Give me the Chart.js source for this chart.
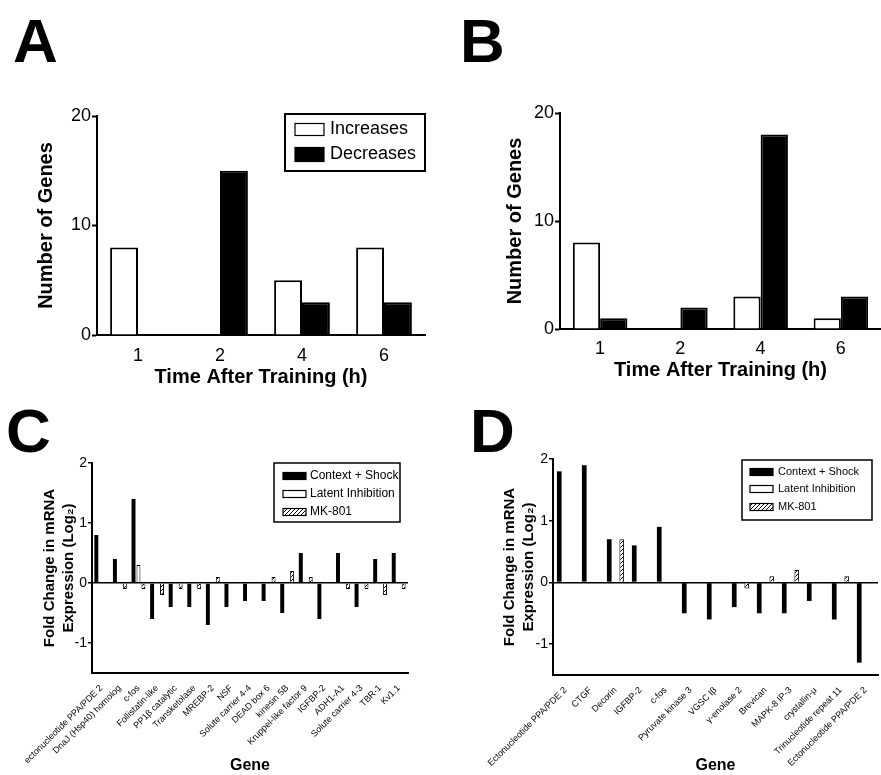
<!DOCTYPE html>
<html>
<head>
<meta charset="utf-8">
<script src="https://cdn.jsdelivr.net/npm/chart.js@4.4.1/dist/chart.umd.min.js"></script>
<style>
  body { margin: 0; background: #fff; width: 881px; height: 775px; position: relative; overflow: hidden; }
  canvas { position: absolute; }
  .letter { position: absolute; font: bold 62px "Liberation Sans", Arial, sans-serif; line-height: 62px; color: #000; }
</style>
</head>
<body>
<div class="letter" style="left:13px;top:10px">A</div>
<div class="letter" style="left:460px;top:10px">B</div>
<div class="letter" style="left:6px;top:400px">C</div>
<div class="letter" style="left:470px;top:400px">D</div>
<canvas id="chartA" width="440" height="300" style="left:0;top:90px"></canvas>
<canvas id="chartB" width="441" height="300" style="left:440px;top:90px"></canvas>
<canvas id="chartC" width="440" height="335" style="left:0;top:440px"></canvas>
<canvas id="chartD" width="441" height="335" style="left:440px;top:440px"></canvas>
<script>
const timeLabels = ["1", "2", "4", "6"];
const aIncreases = [8, 0, 5, 8];
const aDecreases = [0, 15, 3, 3];
const bIncreases = [8, 0, 3, 1];
const bDecreases = [1, 2, 18, 3];
const countTicks = [0, 10, 20];

const cGenes = ["ectonucleotide PPA/PDE 2", "DnaJ (Hsp40) homolog", "c-fos", "Follistatin-like",
  "PP1\u03b2 catalytic", "Transketolase", "MREBP-2", "NSF", "Solute carrier 4-4", "DEAD box 6",
  "kinesin 5B", "Kruppel-like factor 9", "IGFBP-2", "ADH1-A1", "Solute carrier 4-3", "TBR-1", "Kv1.1"];
const cContext = [0.8, 0.4, 1.4, -0.6, -0.4, -0.4, -0.7, -0.4, -0.3, -0.3, -0.5, 0.5, -0.6, 0.5, -0.4, 0.4, 0.5];
const cLatent = [null, null, 0.3, null, null, null, null, null, null, null, null, null, null, null, null, null, null];
const cMK801 = [null, -0.1, -0.1, -0.2, -0.1, -0.1, 0.1, null, null, 0.1, 0.2, 0.1, null, -0.1, -0.1, -0.2, -0.1];

const dGenes = ["Ectonucleotide PPA/PDE 2", "CTGF", "Decorin", "IGFBP-2", "c-fos", "Pyruvate kinase 3",
  "VGSC I\u03b2", "\u03b3-enolase 2", "Brevican", "MAPK-8 IP-3", "crystallin-\u03bc",
  "Trinucleotide repeat 11", "Ectonucleotide PPA/PDE 2"];
const dContext = [1.8, 1.9, 0.7, 0.6, 0.9, -0.5, -0.6, -0.4, -0.5, -0.5, -0.3, -0.6, -1.3];
const dLatent = [null, null, null, null, null, null, null, null, null, null, null, null, null];
const dMK801 = [null, null, 0.7, null, null, null, null, -0.1, 0.1, 0.2, null, 0.1, null];
const foldTicks = [-1, 0, 1, 2];

Chart.defaults.font.family = '"Liberation Sans", Arial, sans-serif';
Chart.defaults.color = "#000";

function hatch() {
  const c = document.createElement("canvas");
  c.width = 4;
  c.height = 4;
  const g = c.getContext("2d");
  g.fillStyle = "#fff";
  g.fillRect(0, 0, 4, 4);
  g.strokeStyle = "#000";
  g.lineWidth = 1;
  g.beginPath();
  g.moveTo(0, 4);
  g.lineTo(4, 0);
  g.stroke();
  return g.createPattern(c, "repeat");
}

// boxed legend drawn inside the plot, like the figure
const boxLegend = {
  id: "boxLegend",
  afterDraw(chart, args, o) {
    const ctx = chart.ctx;
    ctx.save();
    ctx.strokeStyle = "#000";
    ctx.lineWidth = o.lineWidth;
    ctx.strokeRect(o.x, o.y, o.w, o.h);
    ctx.font = o.fontSize + "px " + Chart.defaults.font.family;
    ctx.textBaseline = "middle";
    chart.data.datasets.forEach((ds, i) => {
      const y = o.y + o.rows[i];
      const sh = o.swatchH[i];
      ctx.fillStyle = ds.backgroundColor;
      ctx.fillRect(o.x + o.swatchX, y - sh / 2, o.swatchW, sh);
      ctx.lineWidth = 1.2;
      ctx.strokeRect(o.x + o.swatchX, y - sh / 2, o.swatchW, sh);
      ctx.fillStyle = "#000";
      ctx.fillText(ds.label, o.x + o.textX, y);
    });
    ctx.restore();
  },
};

function countChart(id, inc, dec, lay, legend) {
  const plugins = legend ? [boxLegend] : [];
  return new Chart(document.getElementById(id), {
    type: "bar",
    data: {
      labels: timeLabels,
      datasets: [
        { label: "Increases", data: inc, backgroundColor: "#fff", borderColor: "#000", borderWidth: 2 },
        { label: "Decreases", data: dec, backgroundColor: "#000", borderColor: "#000", borderWidth: 2 },
      ],
    },
    plugins,
    options: {
      responsive: false,
      animation: false,
      layout: { padding: lay.padding },
      datasets: { bar: { categoryPercentage: 0.68, barPercentage: 1 } },
      plugins: { legend: { display: false }, tooltip: { enabled: false }, boxLegend: legend },
      scales: {
        x: {
          grid: { display: false },
          border: { color: "#000", width: 2 },
          ticks: { font: { size: 18 }, padding: lay.xTickPad },
          title: { display: true, text: "Time After Training (h)", font: { size: 20, weight: "bold" }, padding: { top: 0, bottom: lay.xTitlePad } },
          afterFit: (s) => { s.height = lay.xHeight; },
        },
        y: {
          min: 0,
          max: 20,
          afterBuildTicks: (s) => { s.ticks = countTicks.map((v) => ({ value: v })); },
          grid: { drawOnChartArea: false, tickLength: 5, tickColor: "#000", tickWidth: 2 },
          border: { color: "#000", width: 2 },
          ticks: { font: { size: 18 }, padding: 1 },
          title: { display: true, text: "Number of Genes", font: { size: 20, weight: "bold" }, padding: { top: lay.yTitlePad, bottom: 0 } },
          afterFit: (s) => { s.width = lay.yWidth; },
        },
      },
    },
  });
}

function foldChart(id, genes, context, latent, mk, lay, legend) {
  return new Chart(document.getElementById(id), {
    type: "bar",
    data: {
      labels: genes,
      datasets: [
        { label: "Context + Shock", data: context, backgroundColor: "#000", borderWidth: 0 },
        { label: "Latent Inhibition", data: latent, backgroundColor: "#fff", borderColor: "#000", borderWidth: 1 },
        { label: "MK-801", data: mk, backgroundColor: hatch(), borderColor: "#000", borderWidth: 1 },
      ],
    },
    plugins: [boxLegend],
    options: {
      responsive: false,
      animation: false,
      layout: { padding: lay.padding },
      datasets: { bar: { categoryPercentage: lay.catPct, barPercentage: lay.barPct } },
      plugins: { legend: { display: false }, tooltip: { enabled: false }, boxLegend: legend },
      scales: {
        x: {
          grid: { display: false },
          border: { color: "#000", width: 2 },
          ticks: { font: { size: 9 }, minRotation: 45, maxRotation: 45, autoSkip: false, padding: 2 },
          title: { display: true, text: "Gene", font: { size: 16, weight: "bold" }, padding: { top: 0, bottom: 0 } },
          afterFit: (s) => { s.height = lay.xHeight; },
        },
        y: {
          min: -1.5,
          max: 2,
          afterBuildTicks: (s) => { s.ticks = foldTicks.map((v) => ({ value: v })); },
          grid: {
            color: (c) => (c.tick && c.tick.value === 0 ? "#000" : "rgba(0,0,0,0)"),
            lineWidth: 1.5,
            tickLength: 4,
            tickColor: "#000",
            tickWidth: 1.5,
          },
          border: { color: "#000", width: 2 },
          ticks: { font: { size: 14 }, padding: 1 },
          title: {
            display: true,
            text: ["Fold Change in mRNA", "Expression (Log\u2082)"],
            font: { size: 15, weight: "bold", lineHeight: 1.27 },
            padding: { top: 2, bottom: 0 },
          },
          afterFit: (s) => { s.width = lay.yWidth; },
        },
      },
    },
  });
}

countChart("chartA", aIncreases, aDecreases,
  { padding: { left: 32, right: 15, top: 26, bottom: 0 }, xHeight: 55, yWidth: 65, xTickPad: 2, xTitlePad: 1, yTitlePad: 2 },
  { x: 285, y: 24, w: 140, h: 57, rows: [15.5, 40.5], swatchX: 10, swatchW: 29, swatchH: [12, 14], textX: 45, fontSize: 18, lineWidth: 2 });

countChart("chartB", bIncreases, bDecreases,
  { padding: { left: 63, right: 0, top: 23, bottom: 0 }, xHeight: 61, yWidth: 57, xTickPad: 1, xTitlePad: 8, yTitlePad: 0 },
  null);

foldChart("chartC", cGenes, cContext, cLatent, cMK801,
  { padding: { left: 38, right: 32, top: 23, bottom: 0 }, xHeight: 102, yWidth: 54, catPct: 0.8, barPct: 0.8 },
  { x: 274, y: 23, w: 126, h: 59, rows: [13, 31, 49], swatchX: 9, swatchW: 23, swatchH: [7, 7, 7], textX: 36, fontSize: 12, lineWidth: 1.5 });

foldChart("chartD", dGenes, dContext, dLatent, dMK801,
  { padding: { left: 58, right: 3, top: 19, bottom: 0 }, xHeight: 100, yWidth: 55, catPct: 0.75, barPct: 0.75 },
  { x: 302, y: 20, w: 130, h: 60, rows: [12, 29, 47], swatchX: 8, swatchW: 23, swatchH: [7, 7, 7], textX: 36, fontSize: 11, lineWidth: 1.5 });
</script>
</body>
</html>
